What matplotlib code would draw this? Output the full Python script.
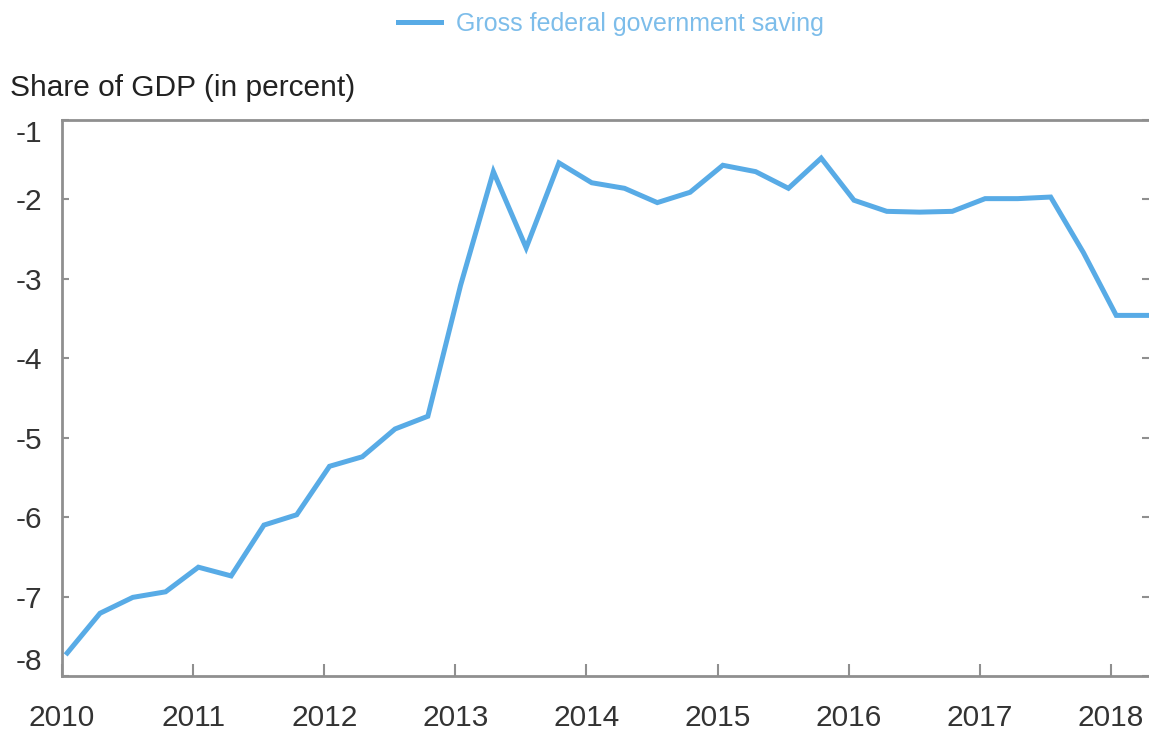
import numpy as np
import matplotlib
matplotlib.use("Agg")
import matplotlib.pyplot as plt

plt.rcParams['font.family'] = ['Liberation Sans', 'DejaVu Sans']

# quarterly data, 2010Q1 .. 2018Q2
years = [2010]*4 + [2011]*4 + [2012]*4 + [2013]*4 + [2014]*4 + [2015]*4 + [2016]*4 + [2017]*4 + [2018]*2
quarters = [1, 2, 3, 4]*8 + [1, 2]
saving = [-7.71, -7.21, -7.01, -6.94,
          -6.63, -6.74, -6.10, -5.97,
          -5.36, -5.24, -4.89, -4.73,
          -3.08, -1.65, -2.61, -1.54,
          -1.79, -1.86, -2.04, -1.91,
          -1.57, -1.65, -1.86, -1.48,
          -2.01, -2.15, -2.16, -2.15,
          -1.99, -1.99, -1.97, -2.67,
          -3.46, -3.46]
year_ticks = list(range(2010, 2019))
y_ticks = [-1, -2, -3, -4, -5, -6, -7, -8]

# mid-month of the quarter's first month
x = np.array(years) + (np.array(quarters) - 1) / 4 + 0.04

fig = plt.figure(figsize=(11.49, 7.30), dpi=100)
ax = fig.add_axes([62/1149, 1 - 676/730, 1 - 62/1149, (676 - 120)/730])

line_color = '#58abe6'
ax.plot(x, saving, color=line_color, lw=3.6, solid_joinstyle='miter',
        label='Gross federal government saving')

ax.set_xlim(2010, 2018.29)
ax.set_ylim(-8, -1)
ax.set_xticks(year_ticks)
ax.set_yticks(y_ticks)
ax.set_yticklabels([str(v) for v in y_ticks])

spine_color = '#8f8f8f'
for s in ['left', 'bottom', 'top']:
    ax.spines[s].set_color(spine_color)
    ax.spines[s].set_linewidth(2)
ax.spines['right'].set_visible(False)

ax.tick_params(axis='x', direction='in', length=9, width=1.5, color=spine_color,
               labelsize=21.5, labelcolor='#333333', pad=20)
ax.tick_params(axis='y', direction='in', length=5, width=1.5, color=spine_color,
               labelsize=21.5, labelcolor='#333333', pad=14, right=True)

# end labels are kept inside the axes box
ylabels = ax.get_yticklabels()
ylabels[0].set_va('top')
ylabels[-1].set_va('bottom')

fig.text(10/1149, 1 - 88/730, 'Share of GDP (in percent)', fontsize=21.5,
         color='#222222', ha='left', va='center')

fig.legend(loc='center', bbox_to_anchor=(611/1149, 1 - 24/730), frameon=False,
           fontsize=18, labelcolor='#7dbdea', handlelength=1.7, handletextpad=0.6)

fig.savefig('out.png', dpi=100)
